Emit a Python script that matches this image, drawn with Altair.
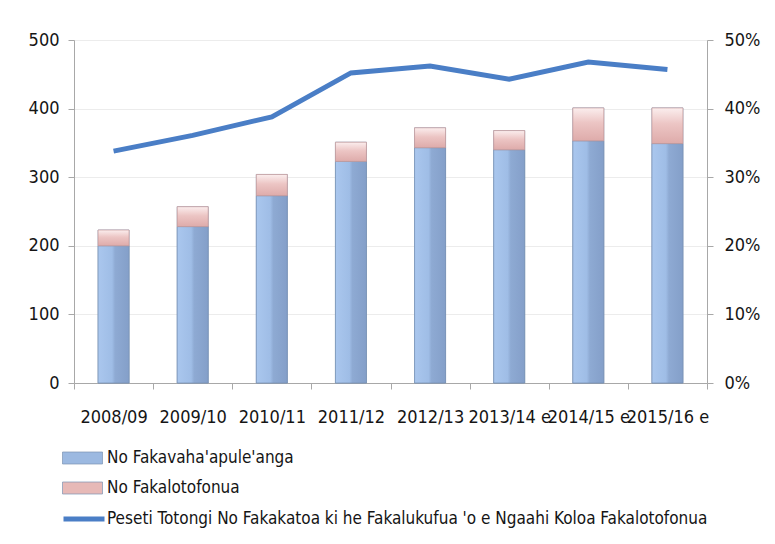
import altair as alt
import pandas as pd

years = ["2008/09", "2009/10", "2010/11", "2011/12", "2012/13", "2013/14 e", "2014/15 e", "2015/16 e"]
vaha = [200, 228, 273, 323, 343, 340, 353, 349]
lotofonua = [23, 29, 31, 28, 29, 28, 48, 52]
peseti = [0.338, 0.361, 0.388, 0.452, 0.462, 0.443, 0.468, 0.457]

s_blue = "No Fakavaha'apule'anga"
s_pink = "No Fakalotofonua"
s_line = "Peseti Totongi No Fakakatoa ki he Fakalukufua 'o e Ngaahi Koloa Fakalotofonua"

rows = []
for y, a, b in zip(years, vaha, lotofonua):
    rows.append({"year": y, "series": s_blue, "lo": 0, "hi": a})
    rows.append({"year": y, "series": s_pink, "lo": a, "hi": a + b})
bars_df = pd.DataFrame(rows)
line_df = pd.DataFrame({"year": years, "pct": peseti, "series": [s_line] * len(years)})

FONT = "'DejaVu Sans Condensed', 'Liberation Sans Narrow', Roboto, sans-serif"
txt = "#151515"
axc = "#a8a8a8"

xenc = alt.X("year:N", sort=years, title=None,
             scale=alt.Scale(paddingInner=0, paddingOuter=0),
             axis=alt.Axis(labelAngle=0, tickBand="extent", labelFontSize=18, labelColor=txt,
                           labelFont=FONT, domainColor=axc, tickColor=axc,
                           tickSize=6, labelPadding=19, grid=False))

yenc = alt.Y("lo:Q", title=None, scale=alt.Scale(domain=[0, 500]),
             axis=alt.Axis(values=[0, 100, 200, 300, 400, 500], labelFontSize=18, labelColor=txt,
                           labelFont=FONT, domainColor=axc, tickColor=axc,
                           gridColor="#ececec", tickSize=6, labelPadding=9))

bars = alt.Chart(bars_df).mark_bar(size=31, stroke="#7d93b3", strokeWidth=0.7).encode(
    x=xenc,
    y=yenc,
    y2="hi:Q",
    color=alt.Color("series:N", sort=[s_blue, s_pink],
                    scale=alt.Scale(domain=[s_blue, s_pink], range=["#9cb9e1", "#e7b9b7"]),
                    legend=alt.Legend(orient="none", legendX=-12, legendY=403, title=None,
                                      symbolType="M-1,-0.3H1V0.3H-1Z", symbolSize=1600,
                                      symbolStrokeColor="#7d93b3", symbolStrokeWidth=0.7,
                                      clipHeight=30, rowPadding=0,
                                      labelFontSize=17, labelFont=FONT, labelColor=txt,
                                      labelOffset=4, labelLimit=700)),
)

blue_grad = alt.Gradient(gradient="linear", x1=0, x2=1, y1=0, y2=0, stops=[
    alt.GradientStop(color="#aac7ee", offset=0),
    alt.GradientStop(color="#9fbde6", offset=0.45),
    alt.GradientStop(color="#8eaad3", offset=0.55),
    alt.GradientStop(color="#849fc9", offset=1)])
pink_grad = alt.Gradient(gradient="linear", x1=0, x2=0, y1=0, y2=1, stops=[
    alt.GradientStop(color="#fbeeee", offset=0),
    alt.GradientStop(color="#ecc5c4", offset=0.45),
    alt.GradientStop(color="#deabaa", offset=1)])

blue_overlay = alt.Chart(bars_df).transform_filter(alt.datum.series == s_blue).mark_bar(
    size=31, color=blue_grad, stroke="#7790b3", strokeWidth=0.7).encode(
    x=alt.X("year:N", sort=years), y="lo:Q", y2="hi:Q")
pink_overlay = alt.Chart(bars_df).transform_filter(alt.datum.series == s_pink).mark_bar(
    size=31, color=pink_grad, stroke="#c49a99", strokeWidth=0.7).encode(
    x=alt.X("year:N", sort=years), y="lo:Q", y2="hi:Q")

line = alt.Chart(line_df).mark_line(strokeWidth=5, color="#4a7ec6").encode(
    x=alt.X("year:N", sort=years),
    y=alt.Y("pct:Q", title=None, scale=alt.Scale(domain=[0, 0.5]),
            axis=alt.Axis(orient="right", format=".0%", values=[0, 0.1, 0.2, 0.3, 0.4, 0.5],
                          labelFontSize=18, labelColor=txt, labelFont=FONT, grid=False,
                          domainColor=axc, tickColor=axc, tickSize=6, labelPadding=11)),
    stroke=alt.Stroke("series:N", scale=alt.Scale(domain=[s_line], range=["#4a7ec6"]),
                      legend=alt.Legend(orient="none", legendX=-13, legendY=464, title=None,
                                        symbolType="stroke", symbolSize=1681, symbolStrokeWidth=5,
                                        clipHeight=30,
                                        labelFontSize=17, labelFont=FONT, labelColor=txt,
                                        labelOffset=0, labelLimit=700)),
)

bars_all = alt.layer(bars, blue_overlay, pink_overlay)

chart = alt.layer(bars_all, line).resolve_scale(y="independent", color="independent").properties(
    width=633, height=343,
    padding={"left": 66, "top": 32, "right": 60, "bottom": 150},
    autosize=alt.AutoSizeParams(type="none"),
).configure_view(stroke=None).configure(background="white")

chart.save("out.html", embed_options={"renderer": "svg", "actions": False})
